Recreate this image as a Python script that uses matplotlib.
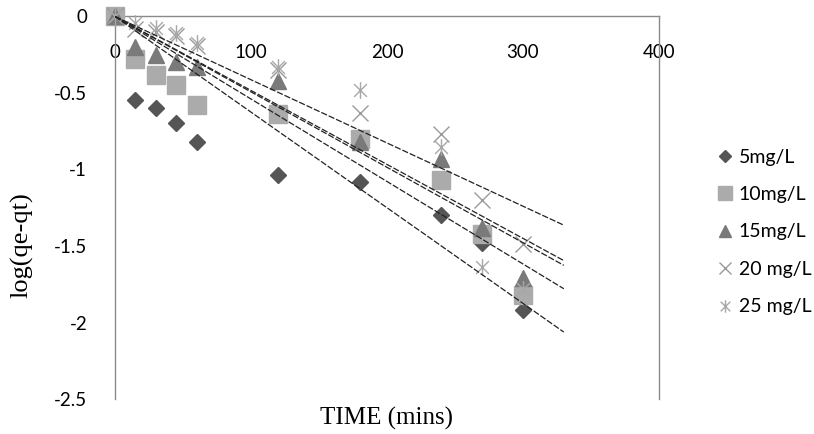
import matplotlib
matplotlib.use("Agg")
import matplotlib.pyplot as plt
import numpy as np
from matplotlib.path import Path

# sampling times (mins)
t = np.array([0, 15, 30, 45, 60, 120, 180, 240, 270, 300])

# log(qe-qt), one list per concentration
c5  = [0, -0.545, -0.60, -0.695, -0.82, -1.035, -1.08, -1.30, -1.48, -1.92]
c10 = [0, -0.28, -0.38, -0.45, -0.58, -0.64, -0.80, -1.07, -1.42, -1.82]
c15 = [0, -0.20, -0.25, -0.30, -0.33, -0.42, -0.82, -0.93, -1.38, -1.71]
c20 = [0, -0.08, -0.10, -0.13, -0.19, -0.35, -0.63, -0.77, -1.20, -1.49]
c25 = [0, -0.04, -0.075, -0.11, -0.17, -0.33, -0.48, -0.85, -1.64, -1.78]
labels = ["5mg/L", "10mg/L", "15mg/L", "20 mg/L", "25 mg/L"]
t_trend_end = 330  # trendline forecast extends past last point

plt.rcParams['axes.unicode_minus'] = False

# excel-like asterisk: X plus a vertical bar
star = Path([(-1, -1), (1, 1), (-1, 1), (1, -1), (0, -1.3), (0, 1.3)],
            [Path.MOVETO, Path.LINETO, Path.MOVETO, Path.LINETO, Path.MOVETO, Path.LINETO])

styles = [
    dict(marker='D', ms=8, color='#555555', mec='#555555'),
    dict(marker='s', ms=13, color='#ababab', mec='#ababab'),
    dict(marker='^', ms=12, color='#7a7a7a', mec='#7a7a7a'),
    dict(marker='x', ms=11, color='#9a9a9a', mew=1.0),
    dict(marker=star, ms=12, color='#a8a8a8', mew=1.0),
]

fig = plt.figure(figsize=(8.14, 4.34), dpi=100)
ax = fig.add_axes([115/814, 1-399/434, (659-115)/814, (399-16.5)/434])

series = [c5, c10, c15, c20, c25]
handles = []
for y, lab, st in zip(series, labels, styles):
    y = np.array(y)
    h, = ax.plot(t, y, ls='none', label=lab, zorder=3, clip_on=False, **st)
    handles.append(h)
    # linear trendline forced through the origin
    k = np.sum(t*y) / np.sum(t*t)
    tt = np.array([0, t_trend_end])
    ax.plot(tt, k*tt, color='#222222', lw=0.9, ls=(0, (5, 1.5)), zorder=4)

ax.set_xlim(0, 400)
ax.set_ylim(-2.5, 0)
ax.set_xticks([0, 100, 200, 300, 400])
ax.set_yticks([0, -0.5, -1, -1.5, -2, -2.5])
ax.set_yticklabels(['0', '-0.5', '-1', '-1.5', '-2', '-2.5'])

ax.spines['bottom'].set_position(('data', 0))
ax.spines['top'].set_visible(False)
for s in ['bottom', 'left', 'right']:
    ax.spines[s].set_color('#8a8a8a')
    ax.spines[s].set_linewidth(1.0)
ax.tick_params(axis='x', length=0, pad=20, labelsize=13.5)
ax.tick_params(axis='y', length=0, pad=20, labelsize=13.5)
for lab in ax.get_xticklabels() + ax.get_yticklabels():
    lab.set_family('Lato')

fig.text(387/814, 1-418/434, 'TIME (mins)', family='Liberation Serif',
         fontsize=18, ha='center', va='center')
fig.text(22/814, 1-245/434, 'log(qe-qt)', family='Liberation Serif',
         fontsize=19, ha='center', va='center', rotation=90)

fig.legend(handles=handles, loc='center left', bbox_to_anchor=(700/814, 1-232/434),
           frameon=False, prop={'family': 'Lato', 'size': 14}, labelspacing=1.05,
           handlelength=0.8, handletextpad=0.3, markerscale=0.75)

fig.savefig('out.png', dpi=100)
